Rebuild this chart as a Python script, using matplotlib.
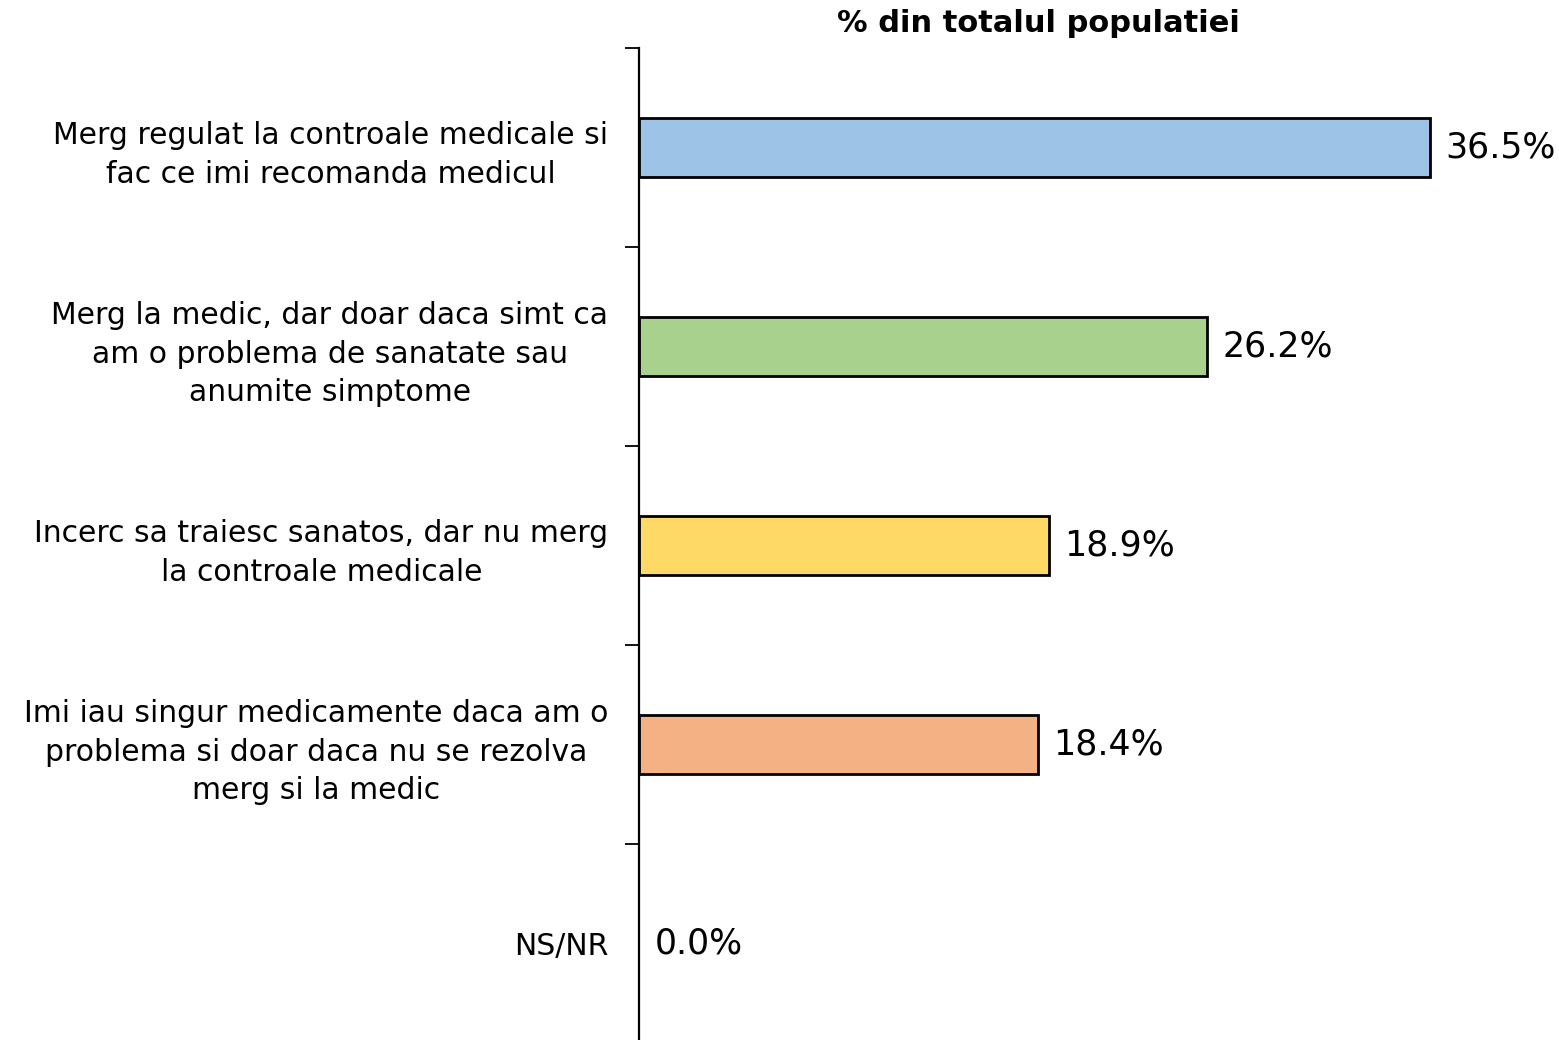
import numpy as np
import matplotlib.pyplot as plt

categories = [
    "Merg regulat la controale medicale si\nfac ce imi recomanda medicul",
    "Merg la medic, dar doar daca simt ca\nam o problema de sanatate sau\nanumite simptome",
    "Incerc sa traiesc sanatos, dar nu merg\nla controale medicale",
    "Imi iau singur medicamente daca am o\nproblema si doar daca nu se rezolva\nmerg si la medic",
    "NS/NR",
]
values = [36.5, 26.2, 18.9, 18.4, 0.0]
colors = ["#9DC3E6", "#A9D18E", "#FFD966", "#F4B183", "#C9C9C9"]
title = "% din totalul populatiei"

plt.rcParams['font.family'] = ['DejaVu Sans']

fig = plt.figure(figsize=(15.59, 10.40), dpi=100)
ax = fig.add_axes([639 / 1559, -3 / 1040, 1 - 639 / 1559, 1 - 45 / 1040])

y = np.arange(len(categories))
widths = [2.0 if v > 0 else 0 for v in values]
ax.barh(y, values, height=0.30, color=colors, edgecolor="black", linewidth=widths)

ax.set_xlim(0, 42.45)
ax.set_ylim(len(categories) - 0.5, -0.5)

# ticks on the category boundaries, labels at the centres
ax.set_yticks(np.arange(len(categories)) - 0.5)
ax.set_yticklabels([])
ax.tick_params(axis="y", which="major", length=10, width=1.3, direction="out")
ax.set_yticks(y, minor=True)
ax.set_yticklabels(categories, minor=True, fontsize=21.5, ha="right",
                   multialignment="center", linespacing=1.4)
ax.tick_params(axis="y", which="minor", length=0, pad=22)

ax.set_xticks([])
for s in ["top", "right", "bottom"]:
    ax.spines[s].set_visible(False)
ax.spines["left"].set_linewidth(1.6)

for yi, v in zip(y, values):
    ax.annotate(f"{v:.1f}%", xy=(v, yi), xytext=(11, 0), textcoords="offset points",
                va="center", ha="left", fontsize=25)

fig.text(1038 / 1559, 1 - 23 / 1040, title, ha="center", va="center",
         fontsize=22, fontweight="heavy")

fig.savefig("out.png", dpi=100)
